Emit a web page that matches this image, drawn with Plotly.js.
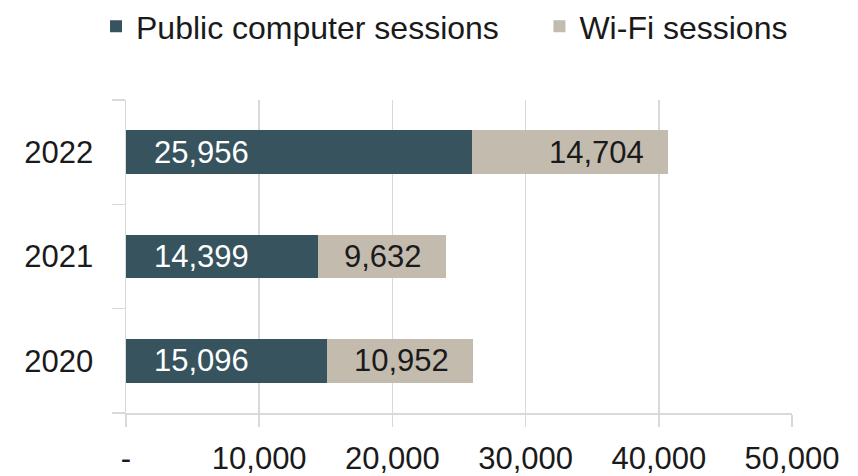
<!DOCTYPE html>
<html><head><meta charset="utf-8">
<script src="https://cdn.plot.ly/plotly-3.0.1.min.js"></script>
<style>html,body{margin:0;padding:0;background:#fff}#chart{width:858px;height:476px}</style>
</head><body><div id="chart"></div>
<script>
const years = ['2020', '2021', '2022'];
const publicComputer = [15096, 14399, 25956];
const wifi = [10952, 9632, 14704];
const xTickVals = [0, 10000, 20000, 30000, 40000, 50000];
const xTickText = ['-', '10,000', '20,000', '30,000', '40,000', '50,000'];
const seriesNames = ['Public computer sessions', 'Wi-Fi sessions'];

const fmt = v => v.toLocaleString('en-US');
const FONT = 'Liberation Sans, Arial, sans-serif';
const FS = 31;

const traces = [
  {type: 'bar', orientation: 'h', name: seriesNames[0] + '\u00a0'.repeat(4), y: years, x: publicComputer,
   marker: {color: '#37535E'}, hoverinfo: 'skip'},
  {type: 'bar', orientation: 'h', name: seriesNames[1], y: years, x: wifi,
   marker: {color: '#C4BBAF'}, hoverinfo: 'skip'}
];

const annotations = [];
years.forEach((yr, i) => {
  annotations.push({x: 0, y: i, xref: 'x', yref: 'y', text: fmt(publicComputer[i]), showarrow: false,
    xanchor: 'left', yanchor: 'middle', xshift: 26, font: {family: FONT, size: FS, color: '#ffffff'}});
  annotations.push({x: publicComputer[i] + wifi[i], y: i, xref: 'x', yref: 'y', text: fmt(wifi[i]), showarrow: false,
    xanchor: 'right', yanchor: 'middle', xshift: -22, font: {family: FONT, size: FS, color: '#1a1a1a'}});
});

const layout = {
  width: 858, height: 476,
  margin: {l: 126, r: 66, t: 100, b: 63, autoexpand: false},
  paper_bgcolor: '#fff', plot_bgcolor: '#fff',
  barmode: 'stack', bargap: 0.58,
  font: {family: FONT, size: FS, color: '#1a1a1a'},
  showlegend: true,
  legend: {orientation: 'h', x: -0.045, xanchor: 'left', y: 1.235, yanchor: 'middle',
    font: {family: FONT, size: 32, color: '#1a1a1a'}, itemwidth: 30, tracegroupgap: 0,
    traceorder: 'normal'},
  xaxis: {range: [0, 50000], tickmode: 'array', tickvals: xTickVals, ticktext: xTickText,
    showgrid: true, gridcolor: '#d9d9d9', gridwidth: 1.5, zeroline: false,
    showline: true, linecolor: '#d9d9d9', linewidth: 1.5,
    ticks: 'outside', ticklen: 12, tickcolor: '#d9d9d9', tickwidth: 1.5,
    ticklabelstandoff: 5, automargin: false,
    tickfont: {family: FONT, size: FS, color: '#1a1a1a'}, fixedrange: true},
  yaxis: {type: 'category', categoryorder: 'array', categoryarray: years, range: [-0.5, 2.5],
    tickson: 'boundaries', ticks: 'outside', ticklen: 13, tickcolor: '#d9d9d9', tickwidth: 1.5,
    showline: true, linecolor: '#d9d9d9', linewidth: 1.5, showgrid: false, zeroline: false,
    ticklabelstandoff: 25, automargin: false,
    tickfont: {family: FONT, size: FS, color: '#1a1a1a'}, fixedrange: true},
  annotations: annotations
};

Plotly.newPlot('chart', traces, layout, {displayModeBar: false, staticPlot: true});
</script></body></html>
